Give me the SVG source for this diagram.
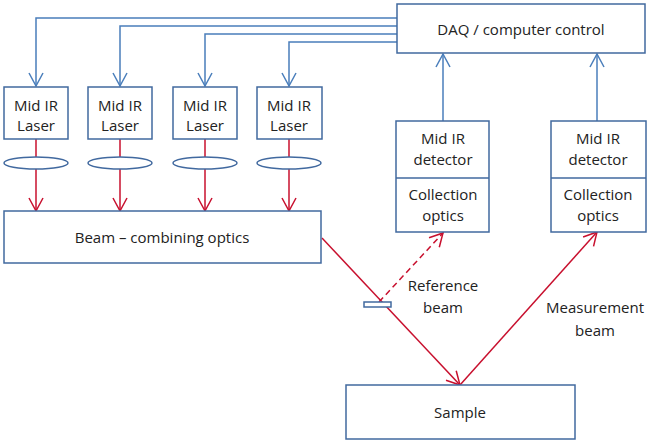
<svg xmlns="http://www.w3.org/2000/svg" width="649" height="444" viewBox="0 0 649 444">
<style>
.box{fill:#fff;stroke:#41699f;stroke-width:1.5}
.bl{fill:none;stroke:#4a7ebb;stroke-width:1.5}
.rd{fill:none;stroke:#c8102e;stroke-width:1.5}
text{font-family:"Open Sans","Liberation Sans",sans-serif;font-size:15px;fill:#222;text-anchor:middle}
</style>
<defs>
<marker id="ab" viewBox="-15 -9 17 18" refX="0" refY="0" markerWidth="17" markerHeight="18" markerUnits="userSpaceOnUse" orient="auto">
<path d="M-13,-7 L0,0 L-13,7" fill="none" stroke="#4a7ebb" stroke-width="1.5"/>
</marker>
<marker id="ar" viewBox="-15 -9 17 18" refX="0" refY="0" markerWidth="17" markerHeight="18" markerUnits="userSpaceOnUse" orient="auto">
<path d="M-13,-7 L0,0 L-13,7" fill="none" stroke="#c8102e" stroke-width="1.5"/>
</marker>
</defs>
<rect width="649" height="444" fill="#fff"/>
<g id="connectors">
<path class="bl" d="M397,18 H36 V86" marker-end="url(#ab)"/>
<path class="bl" d="M397,26 H120 V86" marker-end="url(#ab)"/>
<path class="bl" d="M397,34 H205 V86" marker-end="url(#ab)"/>
<path class="bl" d="M397,42 H289 V86" marker-end="url(#ab)"/>
<path class="bl" d="M443,121 V54" marker-end="url(#ab)"/>
<path class="bl" d="M597,121 V54" marker-end="url(#ab)"/>
<path class="rd" d="M36,139 V157"/>
<path class="rd" d="M120,139 V157"/>
<path class="rd" d="M205,139 V157"/>
<path class="rd" d="M289,139 V157"/>
<path class="rd" d="M36,169 V211" marker-end="url(#ar)"/>
<path class="rd" d="M120,169 V211" marker-end="url(#ar)"/>
<path class="rd" d="M205,169 V211" marker-end="url(#ar)"/>
<path class="rd" d="M289,169 V211" marker-end="url(#ar)"/>
<path class="rd" d="M322,238 L460,385" marker-end="url(#ar)"/>
<path class="rd" d="M460,385 L597,232" marker-end="url(#ar)"/>
<path class="rd" d="M379,302 L443,233" stroke-dasharray="6,4" marker-end="url(#ar)"/>
</g>
<g id="daq"><rect class="box" x="397" y="4" width="248" height="49"/><text x="521" y="35">DAQ / computer control</text></g>
<g id="laser1"><rect class="box" x="4" y="87" width="64" height="52"/><text x="36" y="111">Mid IR</text><text x="36" y="131">Laser</text></g>
<g id="laser2"><rect class="box" x="88" y="87" width="64" height="52"/><text x="120" y="111">Mid IR</text><text x="120" y="131">Laser</text></g>
<g id="laser3"><rect class="box" x="173" y="87" width="64" height="52"/><text x="205" y="111">Mid IR</text><text x="205" y="131">Laser</text></g>
<g id="laser4"><rect class="box" x="257" y="87" width="65" height="52"/><text x="289" y="111">Mid IR</text><text x="289" y="131">Laser</text></g>
<g id="lens1"><ellipse class="box" cx="36" cy="163" rx="32" ry="6"/></g>
<g id="lens2"><ellipse class="box" cx="120" cy="163" rx="32" ry="6"/></g>
<g id="lens3"><ellipse class="box" cx="205" cy="163" rx="32" ry="6"/></g>
<g id="lens4"><ellipse class="box" cx="289" cy="163" rx="32" ry="6"/></g>
<g id="beam-combining"><rect class="box" x="4" y="211" width="317" height="52"/><text x="162" y="243">Beam – combining optics</text></g>
<g id="detector1"><rect class="box" x="396" y="121" width="93" height="111"/><line class="box" x1="396" y1="178" x2="489" y2="178"/><text x="443" y="144">Mid IR</text><text x="443" y="165">detector</text><text x="443" y="200">Collection</text><text x="443" y="221">optics</text></g>
<g id="detector2"><rect class="box" x="551" y="121" width="95" height="111"/><line class="box" x1="551" y1="178" x2="646" y2="178"/><text x="598" y="144">Mid IR</text><text x="598" y="165">detector</text><text x="598" y="200">Collection</text><text x="598" y="221">optics</text></g>
<g id="splitter"><rect class="box" x="364" y="302" width="27" height="5"/></g>
<g id="labels"><text x="443" y="291">Reference</text><text x="443" y="313">beam</text><text x="595" y="313">Measurement</text><text x="595" y="336">beam</text></g>
<g id="sample"><rect class="box" x="346" y="385" width="229" height="54"/><text x="460" y="418">Sample</text></g>
</svg>
